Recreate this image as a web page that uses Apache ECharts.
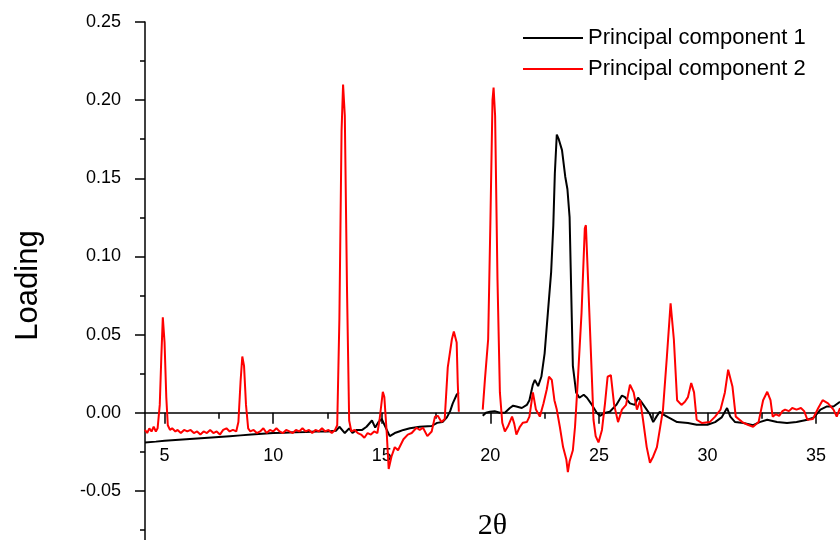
<!DOCTYPE html>
<html>
<head>
<meta charset="utf-8">
<script src="https://cdn.jsdelivr.net/npm/echarts@6/dist/echarts.min.js"></script>
<style>
  body { margin: 0; background: #fff; }
  #main { width: 840px; height: 540px; }
</style>
</head>
<body>
<div id="main"></div>
<script>
  // 主成分载荷数据 (2θ, loading)
  const seriesNames = ['Principal component 1', 'Principal component 2']

  const pc1X = [4.1, 4.6, 5.0, 5.5, 6.0, 6.5, 7.0, 7.5, 8.0, 8.5, 9.0, 9.5, 10.0, 10.5, 11.0, 11.5, 12.0, 12.5, 12.9,
    13.05, 13.3, 13.5, 13.65, 13.85, 14.1, 14.3, 14.55, 14.7, 14.85, 15.0, 15.2, 15.37, 15.6, 15.8, 16.0, 16.3, 16.75,
    17.3, 17.55, 17.8, 18.0, 18.15, 18.27, 18.45, 18.55, 19.1,
    19.65, 19.8, 19.98, 20.2, 20.44, 20.67, 20.9, 21.05, 21.2, 21.45, 21.68, 21.8, 21.96, 22.05, 22.2, 22.35, 22.5,
    22.65, 22.8, 22.9, 22.97, 23.06, 23.15, 23.3, 23.45, 23.55, 23.65, 23.7, 23.75, 23.8, 23.88, 23.95, 24.1, 24.3,
    24.45, 24.68, 24.9, 25.05, 25.3, 25.5, 25.8, 26.06, 26.2, 26.43, 26.65, 26.8, 26.95, 27.2, 27.35, 27.5, 27.65,
    27.8, 27.95, 28.2, 28.6, 29.1, 29.5, 30.0, 30.35, 30.65, 30.8, 30.9, 31.05, 31.27, 31.65, 32.1, 32.4, 32.75,
    33.2, 33.66, 34.1, 34.6, 34.9, 35.2, 35.5, 35.8, 36.1]
  const pc1Y = [-0.019, -0.0185, -0.018, -0.0175, -0.017, -0.0165, -0.016, -0.0155, -0.015, -0.0145, -0.014, -0.0135,
    -0.013, -0.0128, -0.0125, -0.0123, -0.012, -0.012, -0.0115,
    -0.009, -0.013, -0.010, -0.013, -0.011, -0.011, -0.009, -0.005, -0.0095, -0.006, -0.004, -0.010, -0.015, -0.013,
    -0.012, -0.011, -0.010, -0.009, -0.0085, -0.0065, -0.006, -0.003, 0.001, 0.006, 0.0115, 0.013, null,
    -0.002, 0.000, 0.0006, 0.001, 0.000, 0.000, 0.003, 0.0045, 0.004, 0.003, 0.005, 0.008, 0.018, 0.021, 0.017,
    0.023, 0.038, 0.064, 0.090, 0.120, 0.153, 0.178, 0.175, 0.168, 0.151, 0.143, 0.125, 0.093, 0.061, 0.030, 0.021,
    0.013, 0.0096, 0.0115, 0.0096, 0.005, 0.000, -0.002, 0.000, 0.0006, 0.005, 0.011, 0.010, 0.006, 0.005, 0.0096,
    0.007, 0.002, -0.001, -0.006, -0.0025, 0.0006, -0.001, -0.003, -0.006, -0.0066, -0.0077, -0.0077, -0.006,
    -0.003, 0.0006, 0.003, -0.0025, -0.006, -0.0066, -0.008, -0.006, -0.0045, -0.006, -0.0066, -0.006, -0.0045,
    -0.003, 0.002, 0.004, 0.004, 0.007]

  const pc2X = [4.1, 4.2, 4.3, 4.4, 4.5, 4.6, 4.68, 4.78, 4.85, 4.92, 5.0, 5.08, 5.15, 5.25, 5.35, 5.5, 5.6, 5.75, 5.9,
    6.05, 6.2, 6.35, 6.5, 6.65, 6.8, 6.95, 7.1, 7.25, 7.4, 7.55, 7.7, 7.85, 8.0, 8.15, 8.3, 8.4, 8.5, 8.58, 8.66, 8.75,
    8.85, 8.95, 9.1, 9.25, 9.4, 9.55, 9.7, 9.85, 10.0, 10.15, 10.3, 10.45, 10.6, 10.75, 10.9, 11.05, 11.2, 11.35,
    11.5, 11.65, 11.8, 11.95, 12.1, 12.25, 12.4, 12.55, 12.7, 12.85, 12.95, 13.05, 13.15, 13.22, 13.3, 13.4, 13.5,
    13.6, 13.75, 13.9, 14.05, 14.2, 14.35, 14.5, 14.65, 14.8, 14.9, 15.05, 15.12, 15.23, 15.32, 15.45, 15.6, 15.75,
    16.0, 16.2, 16.38, 16.6, 16.75, 16.9, 17.1, 17.3, 17.45, 17.58, 17.75, 17.9, 18.04, 18.23, 18.32, 18.45, 18.5,
    18.55, 19.1,
    19.65, 19.75, 19.9, 20.0, 20.1, 20.15, 20.22, 20.33, 20.44, 20.55, 20.67, 20.8, 21.0, 21.1, 21.2, 21.36, 21.5,
    21.68, 21.8, 21.96, 22.1, 22.28, 22.45, 22.6, 22.7, 22.83, 22.95, 23.06, 23.2, 23.35, 23.5, 23.57, 23.65, 23.8,
    23.9, 24.03, 24.2, 24.35, 24.4, 24.5, 24.68, 24.75, 24.85, 24.98, 25.14, 25.28, 25.4, 25.55, 25.7, 25.88, 26.06,
    26.25, 26.43, 26.6, 26.75, 26.9, 27.03, 27.2, 27.35, 27.5, 27.67, 27.8, 27.95, 28.13, 28.3, 28.45, 28.6, 28.8,
    28.96, 29.1, 29.25, 29.38, 29.5, 29.75, 30.1, 30.35, 30.6, 30.8, 30.95, 31.04, 31.15, 31.3, 31.6, 31.85, 32.1,
    32.35, 32.56, 32.75, 32.9, 33.0, 33.15, 33.3, 33.45, 33.57, 33.75, 33.9, 34.1, 34.3, 34.45, 34.6, 34.85, 35.1,
    35.3, 35.55, 35.8, 35.95, 36.1]
  const pc2Y = [-0.011, -0.013, -0.010, -0.012, -0.009, -0.012, -0.010, 0.005, 0.035, 0.061, 0.045, 0.010, -0.008,
    -0.011, -0.010, -0.012, -0.011, -0.013, -0.011, -0.012, -0.011, -0.013, -0.012, -0.014, -0.012, -0.013, -0.011,
    -0.013, -0.012, -0.014, -0.011, -0.010, -0.012, -0.011, -0.012, -0.006, 0.020, 0.036, 0.030, 0.005, -0.010,
    -0.012, -0.011, -0.013, -0.012, -0.010, -0.013, -0.011, -0.012, -0.010, -0.012, -0.013, -0.011, -0.012, -0.013,
    -0.011, -0.012, -0.010, -0.012, -0.011, -0.013, -0.011, -0.012, -0.010, -0.012, -0.011, -0.013, -0.011, -0.008,
    0.060, 0.180, 0.210, 0.190, 0.080, -0.005, -0.012, -0.011, -0.013, -0.014, -0.016, -0.013, -0.014, -0.012,
    -0.013, -0.0045, 0.0134, 0.010, -0.013, -0.036, -0.028, -0.022, -0.024, -0.017, -0.014, -0.013, -0.0096,
    -0.011, -0.0096, -0.015, -0.012, -0.0025, -0.002, -0.006, -0.004, 0.029, 0.047, 0.052, 0.045, 0.019, 0.0006, null,
    0.002, 0.021, 0.047, 0.120, 0.200, 0.208, 0.190, 0.085, 0.013, -0.0064, -0.012, -0.009, -0.0025, -0.007, -0.014,
    -0.009, -0.0064, -0.006, -0.0025, 0.013, 0.002, -0.0025, 0.006, 0.015, 0.023, 0.021, 0.008, 0.002, -0.009,
    -0.022, -0.030, -0.038, -0.031, -0.024, -0.009, 0.021, 0.064, 0.118, 0.120, 0.085, 0.021, -0.0045, -0.015,
    -0.019, -0.011, 0.006, 0.023, 0.024, 0.005, -0.006, 0.002, 0.005, 0.018, 0.013, 0.002, 0.008, -0.0045, -0.022,
    -0.032, -0.028, -0.022, -0.011, 0.002, 0.036, 0.070, 0.047, 0.008, 0.005, 0.007, 0.010, 0.019, 0.013, -0.0045,
    -0.0066, -0.006, -0.0025, 0.002, 0.013, 0.0275, 0.028, 0.0166, -0.0025, -0.006, -0.0077, -0.009, -0.006, 0.008,
    0.0134, 0.008, -0.0025, -0.001, -0.002, 0.001, 0.002, 0.001, 0.003, 0.002, 0.003, 0.001, -0.0045, -0.004, 0.003,
    0.008, 0.006, 0.002, -0.0025, 0.003]

  const xTicks = [5, 10, 15, 20, 25, 30, 35]
  const xMinorTicks = [7.5, 12.5, 17.5, 22.5, 27.5, 32.5]

  const toPairs = (xs, ys) => xs.map((x, i) => [x, ys[i]])

  const myChart = echarts.init(document.getElementById('main'))
  const font = 'Liberation Sans, Arial, sans-serif'

  myChart.setOption({
    animation: false,
    grid: { left: 145, right: 0, top: 22, bottom: -29, containLabel: false, outerBoundsMode: 'none' },
    legend: {
      orient: 'vertical',
      left: 518,
      top: 22,
      icon: 'rect',
      itemWidth: 60,
      itemHeight: 2,
      itemGap: 9,
      textStyle: { fontFamily: font, fontSize: 22, color: '#000' },
      data: seriesNames
    },
    xAxis: [
      {
        type: 'value',
        min: 4.1,
        max: 36.1,
        position: 'bottom',
        name: '2θ',
        nameLocation: 'middle',
        // 标签相对网格底边定位, 底边在画布外
        nameGap: -58,
        nameTextStyle: { fontFamily: 'Liberation Serif, Times New Roman, serif', fontSize: 30, color: '#000' },
        axisLine: { onZero: true, onZeroAxisIndex: 0, lineStyle: { color: '#000', width: 1.5 } },
        axisTick: { customValues: xTicks, length: 11, lineStyle: { color: '#000', width: 1.5 } },
        axisLabel: { customValues: xTicks, margin: -122, fontFamily: font, fontSize: 18, color: '#000' },
        splitLine: { show: false }
      },
      {
        // 次刻度
        type: 'value',
        min: 4.1,
        max: 36.1,
        position: 'bottom',
        axisLine: { show: false, onZero: true, onZeroAxisIndex: 0 },
        axisTick: { customValues: xMinorTicks, length: 6, lineStyle: { color: '#000', width: 1.5 } },
        axisLabel: { show: false },
        splitLine: { show: false }
      }
    ],
    yAxis: {
      type: 'value',
      min: -0.1,
      max: 0.25,
      interval: 0.05,
      name: 'Loading',
      nameLocation: 'middle',
      nameGap: 101,
      nameTextStyle: { fontFamily: font, fontSize: 31, color: '#000', padding: [0, 0, 0, 20] },
      axisLine: { show: true, lineStyle: { color: '#000', width: 1.5 } },
      axisTick: { show: true, length: 10, lineStyle: { color: '#000', width: 1.5 } },
      minorTick: { show: true, splitNumber: 2, length: 5, lineStyle: { color: '#000', width: 1.5 } },
      axisLabel: {
        margin: 24,
        fontFamily: font,
        fontSize: 18,
        color: '#000',
        formatter: v => v.toFixed(2)
      },
      splitLine: { show: false }
    },
    series: [
      {
        name: seriesNames[0],
        type: 'line',
        symbol: 'none',
        connectNulls: false,
        lineStyle: { color: '#000', width: 2 },
        itemStyle: { color: '#000' },
        data: toPairs(pc1X, pc1Y)
      },
      {
        name: seriesNames[1],
        type: 'line',
        symbol: 'none',
        connectNulls: false,
        lineStyle: { color: '#ff0000', width: 2 },
        itemStyle: { color: '#ff0000' },
        data: toPairs(pc2X, pc2Y)
      }
    ]
  })
</script>
</body>
</html>
